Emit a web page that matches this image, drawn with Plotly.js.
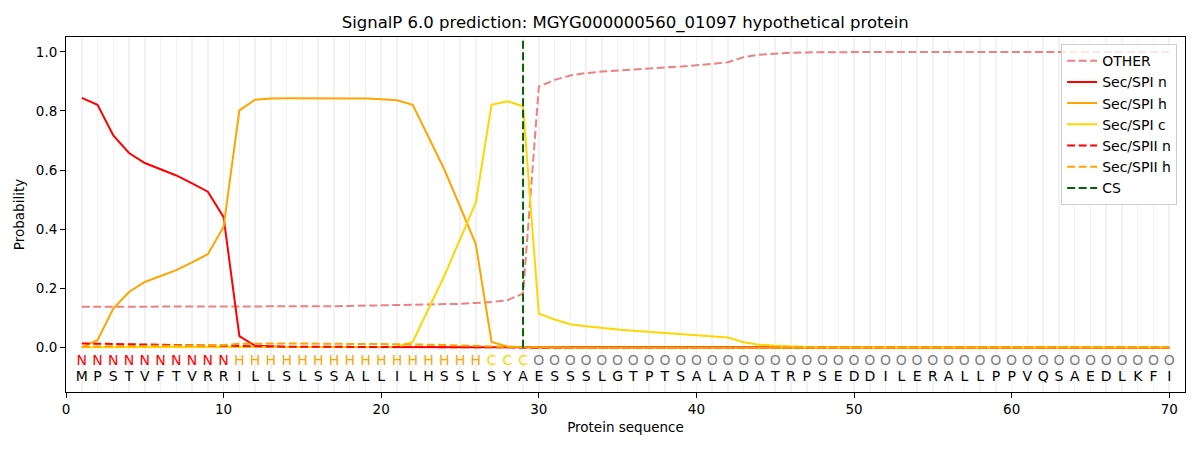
<!DOCTYPE html>
<html>
<head>
<meta charset="utf-8">
<script src="https://cdn.plot.ly/plotly-3.0.1.min.js"></script>
<style>
  body { margin: 0; background: #fff; }
  #plot { width: 1200px; height: 450px; }
</style>
</head>
<body>
<div id="plot"></div>
<script>
// sequence and per-residue labels
const sequence = "MPSTVFTVRRILLSLSSALLILHSSLSYAESSSLGTPTSALADATRPSEDDILERALLPPVQSAEDLKFI".split("");
const regionLabels = "NNNNNNNNNNHHHHHHHHHHHHHHHHCCCOOOOOOOOOOOOOOOOOOOOOOOOOOOOOOOOOOOOOOOOO".split("");
const positions = sequence.map((_, i) => i + 1);

// probabilities (positions 1..70)
const other = [0.138,0.138,0.138,0.138,0.138,0.138,0.138,0.138,0.139,0.139,
  0.139,0.139,0.139,0.139,0.139,0.140,0.140,0.141,0.142,0.142,
  0.143,0.143,0.144,0.146,0.148,0.151,0.154,0.160,0.183,0.882,
  0.905,0.920,0.928,0.933,0.937,0.940,0.943,0.947,0.950,0.954,
  0.959,0.965,0.982,0.990,0.994,0.997,0.998,0.999,0.999,0.999,
  0.999,0.999,0.999,0.999,0.999,0.999,0.999,0.999,0.999,0.999,
  0.999,0.999,0.999,0.999,0.999,0.999,0.999,0.999,0.999,0.999];

const spiN = [0.844,0.821,0.717,0.658,0.624,0.603,0.582,0.555,0.527,0.441,
  0.039,0.006,0.003,0.002,0.002,0.002,0.002,0.002,0.002,0.002,
  0.001,0.001,0.001,0.001,0.001,0.001,0.001,0.001,0,0,
  0,0,0,0,0,0,0,0,0,0, 0,0,0,0,0,0,0,0,0,0,
  0,0,0,0,0,0,0,0,0,0, 0,0,0,0,0,0,0,0,0,0];

const spiH = [0.001,0.025,0.132,0.188,0.222,0.242,0.262,0.288,0.316,0.409,
  0.802,0.838,0.842,0.843,0.843,0.843,0.842,0.842,0.842,0.840,
  0.836,0.821,0.714,0.603,0.477,0.350,0.019,0.004,0.001,0,
  0,0,0,0,0,0,0,0,0,0, 0,0,0,0,0,0,0,0,0,0,
  0,0,0,0,0,0,0,0,0,0, 0,0,0,0,0,0,0,0,0,0];

const spiC = [0.001,0.001,0.001,0.001,0.001,0.001,0.001,0.001,0.001,0.001,
  0.001,0.001,0.001,0.001,0.001,0.001,0.001,0.001,0.001,0.001,
  0.003,0.019,0.131,0.242,0.366,0.490,0.821,0.833,0.816,0.115,
  0.095,0.079,0.072,0.066,0.061,0.057,0.053,0.050,0.046,0.042,
  0.038,0.034,0.018,0.010,0.006,0.003,0.002,0.001,0.001,0.001,
  0.001,0.001,0.001,0.001,0.001,0.001,0.001,0.001,0.001,0.001,
  0.001,0.001,0.001,0.001,0.001,0.001,0.001,0.001,0.001,0.001];

const spiiN = [0.014,0.013,0.012,0.011,0.010,0.009,0.008,0.008,0.007,0.006,
  0.005,0.004,0.004,0.003,0.003,0.003,0.003,0.002,0.002,0.002,
  0.002,0.002,0.002,0.001,0.001,0.001,0.001,0.001,0,0,
  0,0,0,0,0,0,0,0,0,0, 0,0,0,0,0,0,0,0,0,0,
  0,0,0,0,0,0,0,0,0,0, 0,0,0,0,0,0,0,0,0,0];

const spiiH = [0.003,0.004,0.005,0.005,0.006,0.006,0.007,0.007,0.008,0.009,
  0.013,0.014,0.014,0.014,0.014,0.013,0.013,0.013,0.012,0.012,
  0.012,0.011,0.010,0.009,0.008,0.006,0.004,0.002,0.001,0,
  0,0,0,0,0,0,0,0,0,0, 0,0,0,0,0,0,0,0,0,0,
  0,0,0,0,0,0,0,0,0,0, 0,0,0,0,0,0,0,0,0,0];

const csPos = 29;
const csRange = [0, 1.04];
const labelRowY = -0.046;
const seqRowY = -0.10;

const labelColors = { N: "#ff0000", H: "#ffa500", C: "#ffd700", O: "#808080" };
const dashPat = "8px,3.5px";

function line(name, y, color, dash) {
  return {
    x: positions, y: y, name: name, type: "scatter", mode: "lines",
    line: { color: color, width: 2, dash: dash || "solid" }
  };
}

const data = [
  line("OTHER", other, "#f08080", dashPat),
  line("Sec/SPI n", spiN, "#ff0000"),
  line("Sec/SPI h", spiH, "#ffa500"),
  line("Sec/SPI c", spiC, "#ffd700"),
  line("Sec/SPII n", spiiN, "#ff0000", dashPat),
  line("Sec/SPII h", spiiH, "#ffa500", dashPat),
  {
    x: [csPos, csPos], y: csRange, name: "CS", type: "scatter", mode: "lines",
    line: { color: "#006400", width: 2, dash: dashPat }
  },
  {
    x: positions, y: positions.map(() => labelRowY), text: regionLabels,
    type: "scatter", mode: "text", showlegend: false, hoverinfo: "skip",
    textposition: "middle center",
    textfont: { family: "DejaVu Sans", size: 14, color: regionLabels.map(l => labelColors[l]) }
  },
  {
    x: positions, y: positions.map(() => seqRowY), text: sequence,
    type: "scatter", mode: "text", showlegend: false, hoverinfo: "skip",
    textposition: "middle center",
    textfont: { family: "DejaVu Sans", size: 14, color: "#000000" }
  }
];

const layout = {
  width: 1200, height: 450,
  margin: { l: 66, r: 15, t: 37, b: 58 },
  paper_bgcolor: "#ffffff", plot_bgcolor: "#ffffff",
  font: { family: "DejaVu Sans", size: 13.5, color: "#000000" },
  title: {
    text: "SignalP 6.0 prediction: MGYG000000560_01097 hypothetical protein",
    font: { family: "DejaVu Sans", size: 16.5, color: "#000000" },
    x: 0.521, xanchor: "center", y: 0.95, yanchor: "middle"
  },
  xaxis: {
    range: [0, 71], tick0: 0, dtick: 10, ticks: "outside", ticklen: 5, tickwidth: 1,
    tickcolor: "#000", showline: true, mirror: true, linecolor: "#000", linewidth: 1,
    zeroline: false, showgrid: true, gridcolor: "#f2f2f2", gridwidth: 1.5,
    minor: { tick0: 0, dtick: 1, showgrid: true, gridcolor: "#f2f2f2", gridwidth: 1.5, ticklen: 0 },
    title: { text: "Protein sequence", standoff: 6, font: { size: 13.5 } }
  },
  yaxis: {
    range: [-0.15, 1.05], tickvals: [0, 0.2, 0.4, 0.6, 0.8, 1.0],
    ticktext: ["0.0", "0.2", "0.4", "0.6", "0.8", "1.0"],
    ticks: "outside", ticklen: 5, tickwidth: 1, tickcolor: "#000",
    showline: true, mirror: true, linecolor: "#000", linewidth: 1,
    zeroline: false, showgrid: false,
    title: { text: "Probability", standoff: 8, font: { size: 13.5 } }
  },
  legend: {
    x: 0.993, xanchor: "right", y: 0.98, yanchor: "top",
    bgcolor: "rgba(255,255,255,0.8)", bordercolor: "#cccccc", borderwidth: 1,
    font: { family: "DejaVu Sans", size: 14 }, itemwidth: 30, tracegroupgap: 0
  },
  showlegend: true,
  hovermode: false
};

Plotly.newPlot("plot", data, layout, { displayModeBar: false, staticPlot: true });
</script>
</body>
</html>
